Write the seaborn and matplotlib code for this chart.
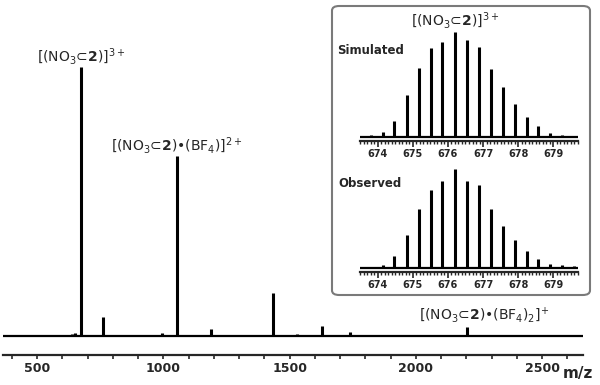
import numpy as np
import pandas as pd
import seaborn as sns
import matplotlib.pyplot as plt
from matplotlib.patches import FancyBboxPatch
from matplotlib.ticker import MultipleLocator

# main spectrum: peak positions (m/z) and intensities (% of base peak)
main_mz = [640, 650, 673, 760, 993, 1053, 1188, 1436, 1528, 1630, 1740, 2202]
main_int = [0.6, 1.1, 100, 6.9, 1.1, 66.9, 2.6, 16.0, 0.6, 3.7, 1.5, 3.3]
main_ticks = [500, 1000, 1500, 2000, 2500]

# isotope pattern of [(NO3c2)]3+
iso_mz = [673.81, 674.14, 674.47, 674.82, 675.16, 675.51, 675.84, 676.19, 676.54,
          676.88, 677.23, 677.56, 677.90, 678.25, 678.58, 678.92, 679.26]
sim_int = [1.6, 4.7, 15.6, 39.7, 65.6, 84.4, 90.6, 100, 92.2, 85.9, 65.0, 47.8,
           31.3, 19.4, 10.0, 4.1, 1.6]
obs_mz = iso_mz + [679.60]
obs_int = [0.7, 3.3, 11.7, 33.3, 59.3, 78.7, 88.3, 100, 87.7, 83.7, 59.3, 42.7,
           28.7, 16.7, 9.3, 4.3, 2.7, 1.7]
iso_ticks = [674, 675, 676, 677, 678, 679]

main = pd.DataFrame({'mz': main_mz, 'intensity': main_int})
sim = pd.DataFrame({'mz': iso_mz, 'intensity': sim_int})
obs = pd.DataFrame({'mz': obs_mz, 'intensity': obs_int})

sns.set_style('ticks')
plt.rcParams['font.family'] = ['DejaVu Sans']
plt.rcParams['mathtext.fontset'] = 'dejavusans'

W, H = 600, 385
fig = plt.figure(figsize=(6, 3.85), dpi=100)


def stick(ax, df, lw):
    ax.axhline(0, color='black', lw=1.6, zorder=1)
    ax.vlines(df['mz'], 0, df['intensity'], color='black', lw=lw, zorder=2)


# ---- main spectrum ----
ax = fig.add_axes([3 / W, 30 / H, 580 / W, 315 / H])
stick(ax, main, 2.2)
ax.set_xlim(365, 2662)
ax.set_ylim(-19 / 2.69, 110)
sns.despine(ax=ax, left=True)
ax.set_yticks([])
ax.spines['bottom'].set_linewidth(1.6)
ax.set_xticks(main_ticks, [str(t) for t in main_ticks], fontweight='bold', fontsize=9)
ax.xaxis.set_minor_locator(MultipleLocator(100))
ax.tick_params(axis='x', which='both', direction='out', length=3, width=1.2, pad=2)
ax.set_facecolor('none')

lbl3 = r'[(NO$_3$⊂$\mathbf{2}$)]$^{3+}$'
lbl2 = r'[(NO$_3$⊂$\mathbf{2}$)•(BF$_4$)]$^{2+}$'
lbl1 = r'[(NO$_3$⊂$\mathbf{2}$)•(BF$_4$)$_2$]$^{+}$'
ax.text(673, 102, lbl3, ha='center', va='baseline', fontsize=10)
ax.text(1053, 69, lbl2, ha='center', va='baseline', fontsize=10)
ax.text(2269, 5.9, lbl1, ha='center', va='baseline', fontsize=10)
fig.text(563 / W, 1 - 378 / H, 'm/z', fontsize=11, fontweight='bold', ha='left', va='baseline')

# ---- inset box ----
box = FancyBboxPatch((332 / W, 1 - 295 / H), 258 / W, 289 / H,
                     boxstyle='round,pad=0,rounding_size=0.012',
                     transform=fig.transFigure, ec='#7a7a7a', fc='white', lw=1.5, zorder=1)
fig.patches.append(box)

fig.text(455 / W, 1 - 26 / H, lbl3, ha='center', va='baseline', fontsize=10)
fig.text(337 / W, 1 - 50 / H, 'Simulated', ha='left', va='center', fontsize=8.5, fontweight='bold')
fig.text(338 / W, 1 - 183 / H, 'Observed', ha='left', va='center', fontsize=8.5, fontweight='bold')


def inset(rect, df, ylim):
    a = fig.add_axes(rect, zorder=3)
    a.set_facecolor('none')
    stick(a, df, 2.2)
    a.set_xlim(673.49, 679.71)
    a.set_ylim(*ylim)
    sns.despine(ax=a, left=True)
    a.set_yticks([])
    a.spines['bottom'].set_linewidth(1.6)
    a.set_xticks(iso_ticks, [str(t) for t in iso_ticks], fontweight='bold', fontsize=7)
    a.xaxis.set_minor_locator(MultipleLocator(0.1))
    a.tick_params(axis='x', which='major', direction='out', length=4, width=1.2, pad=2)
    a.tick_params(axis='x', which='minor', direction='out', length=2.5, width=1.0)
    return a


inset([360 / W, 1 - 141 / H, 218 / W, 115 / H], sim, (-4 / 1.05, 105.7))
inset([360 / W, 1 - 272 / H, 218 / W, 112 / H], obs, (-4 / 0.99, 109))

fig.savefig('out.png', dpi=100)
